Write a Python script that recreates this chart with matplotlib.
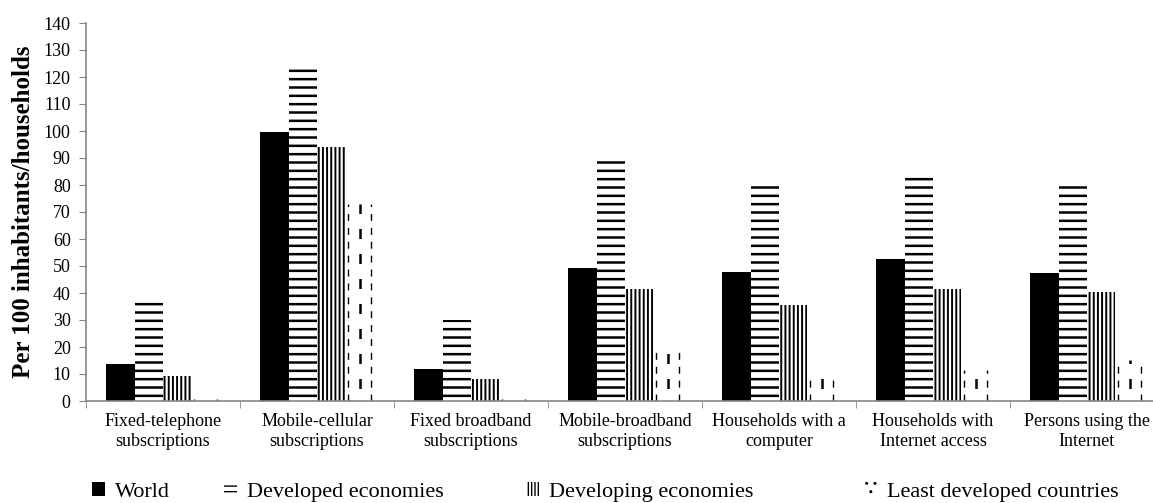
import numpy as np
import matplotlib
matplotlib.use("Agg")
import matplotlib.pyplot as plt
from matplotlib.patches import Patch

categories = ["Fixed-telephone\nsubscriptions", "Mobile-cellular\nsubscriptions",
              "Fixed broadband\nsubscriptions", "Mobile-broadband\nsubscriptions",
              "Households with a\ncomputer", "Households with\nInternet access",
              "Persons using the\nInternet"]
series = ["World", "Developed economies", "Developing economies", "Least developed countries"]
world = [13.7, 99.7, 12.0, 49.4, 47.8, 52.6, 47.4]
developed = [36.7, 124.7, 30.0, 89.9, 80.6, 83.7, 80.6]
developing = [9.3, 94.1, 8.2, 41.4, 35.6, 41.5, 40.4]
least = [0.9, 73.0, 0.8, 20.4, 8.4, 11.5, 15.2]
yticks = list(range(0, 141, 10))

plt.rcParams["font.family"] = ["Liberation Serif", "DejaVu Serif"]

fig = plt.figure(figsize=(11.53, 5.03), dpi=100)
ax = fig.add_axes([86 / 1153, 1 - 401 / 503, 1078 / 1153, 378 / 503])

x = np.arange(len(categories))
w = 0.184

b_world = ax.bar(x - 1.5 * w, world, w, color="black", linewidth=0)
with plt.rc_context({"hatch.linewidth": 1.8}):
    b_dev = ax.bar(x - 0.5 * w, developed, w, color="white", edgecolor="black",
                   hatch="--", linewidth=0)
with plt.rc_context({"hatch.linewidth": 1.4}):
    b_ing = ax.bar(x + 0.5 * w, developing, w, color="white", edgecolor="black",
                   hatch="||||", linewidth=0)
b_ldc = ax.bar(x + 1.5 * w, least, w, color="white", linewidth=0)

# dashed vertical pattern for least developed countries
for rect, v in zip(b_ldc, least):
    x0, bw = rect.get_x(), rect.get_width()
    ax.vlines([x0 + 0.08 * bw, x0 + 0.92 * bw], 0, v, colors="black",
              linewidth=1.0, linestyles=(0, (5, 5)))
    ax.vlines([x0 + 0.5 * bw], 0, v, colors="black",
              linewidth=1.8, linestyles=(5, (4, 6)))

ax.set_xlim(-0.5, len(categories) - 0.5)
ax.set_ylim(0, 140)
ax.set_yticks(yticks)
ax.set_xticks(x)
ax.set_xticklabels(categories, fontsize=13)
ax.tick_params(axis="x", which="major", length=0, pad=9)
ax.set_xticks(np.arange(len(categories) + 1) - 0.5, minor=True)
ax.tick_params(axis="x", which="minor", length=5, color="#868686", direction="out")
ax.tick_params(axis="y", labelsize=13, length=5, color="#868686", pad=6)

for s in ["top", "right"]:
    ax.spines[s].set_visible(False)
for s in ["left", "bottom"]:
    ax.spines[s].set_color("#868686")
    ax.spines[s].set_linewidth(1.2)

ax.set_ylabel("Per 100 inhabitants/households", fontsize=18, fontweight="bold", labelpad=6)

# legend entries laid out like the original
handles = [
    Patch(facecolor="black", edgecolor="black", linewidth=0),
    Patch(facecolor="white", edgecolor="black", hatch="---", linewidth=0),
    Patch(facecolor="white", edgecolor="black", hatch="|||||", linewidth=0),
    Patch(facecolor="white", edgecolor="black", hatch="..", linewidth=0),
]
xpos = [92, 224, 526, 864]
for h, lab, xp in zip(handles, series, xpos):
    fig.legend([h], [lab], loc="center left", bbox_to_anchor=(xp / 1153, 1 - 492 / 503),
               frameon=False, fontsize=16, handlelength=0.6, handleheight=0.6,
               handletextpad=0.45, borderpad=0, borderaxespad=0)

fig.savefig("out.png", dpi=100)
